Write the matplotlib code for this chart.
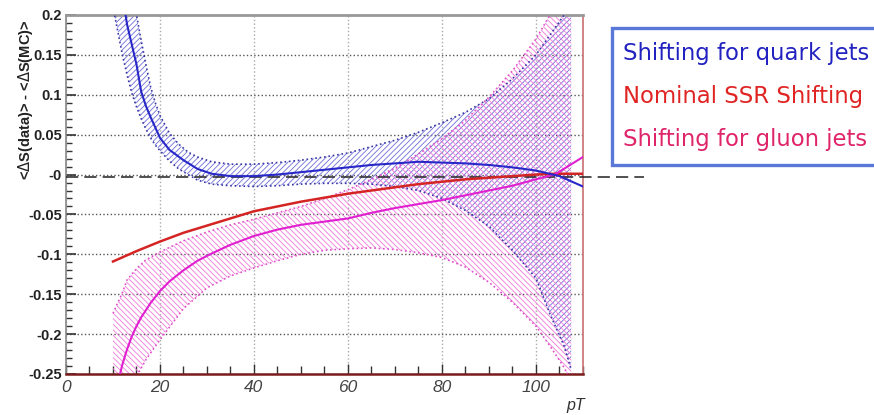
import numpy as np
import matplotlib
matplotlib.use("Agg")
import matplotlib.pyplot as plt
from matplotlib.ticker import MultipleLocator, FixedLocator, FixedFormatter
from matplotlib.patches import Rectangle

plt.rcParams['hatch.linewidth'] = 0.6
plt.rcParams['font.family'] = ['Liberation Sans', 'DejaVu Sans']

# quark jets: fitted shift and its error band
quark_pt = [12, 13, 14, 15, 16, 17, 18, 20, 22, 25, 28, 31, 35, 40, 45, 50,
            55, 60, 65, 70, 75, 80, 85, 90, 95, 100, 105, 110]
quark_shift = [0.225, 0.188, 0.163, 0.138, 0.104, 0.086, 0.072, 0.046, 0.031,
               0.018, 0.007, 0.001, -0.002, -0.002, 0.0, 0.003, 0.006, 0.009,
               0.012, 0.014, 0.016, 0.015, 0.014, 0.012, 0.009, 0.005, -0.002,
               -0.015]

band_pt = [10, 11, 12, 13, 14, 15, 16, 17, 18, 19, 20, 22, 24, 26, 28, 31, 35,
           40, 45, 50, 55, 60, 65, 70, 75, 80, 85, 90, 95, 100, 103, 106, 107.5]
quark_hi = [0.36, 0.33, 0.30, 0.27, 0.235, 0.2, 0.168, 0.138, 0.11, 0.09, 0.074,
            0.052, 0.038, 0.028, 0.022, 0.016, 0.013, 0.013, 0.015, 0.018,
            0.022, 0.027, 0.035, 0.043, 0.053, 0.065, 0.078, 0.095, 0.12, 0.15,
            0.175, 0.2, 0.22]
quark_lo = [0.21, 0.18, 0.15, 0.125, 0.102, 0.085, 0.07, 0.057, 0.046, 0.037,
            0.03, 0.017, 0.007, 0.0, -0.007, -0.012, -0.014, -0.015, -0.014,
            -0.012, -0.011, -0.011, -0.012, -0.015, -0.02, -0.03, -0.045,
            -0.065, -0.095, -0.13, -0.175, -0.215, -0.245]

# nominal SSR shift
ssr_pt = [10, 15, 20, 25, 30, 35, 40, 45, 50, 55, 60, 65, 70, 75, 80, 85, 90,
          95, 100, 104, 110]
ssr_shift = [-0.109, -0.096, -0.084, -0.073, -0.064, -0.055, -0.046, -0.040,
             -0.034, -0.029, -0.024, -0.020, -0.016, -0.012, -0.009, -0.006,
             -0.004, -0.002, 0.0, 0.001, 0.001]

# gluon jets: fitted shift and its error band
gluon_pt = [11.5, 12, 13, 14, 15, 16, 18, 20, 22, 25, 28, 31, 35, 40, 45, 50,
            55, 60, 65, 70, 75, 80, 85, 90, 95, 100, 104, 110]
gluon_shift = [-0.25, -0.238, -0.219, -0.203, -0.19, -0.179, -0.161, -0.146,
               -0.134, -0.12, -0.108, -0.099, -0.088, -0.077, -0.069, -0.063,
               -0.059, -0.055, -0.048, -0.042, -0.037, -0.032, -0.026, -0.02,
               -0.014, -0.006, 0.0, 0.022]

gband_pt = [10, 12, 13, 15, 17, 20, 25, 30, 35, 40, 45, 50, 55, 60, 65, 70, 75,
            80, 85, 90, 95, 100, 103, 106, 107.5]
gluon_hi = [-0.174, -0.148, -0.132, -0.118, -0.107, -0.097, -0.083, -0.072,
            -0.063, -0.056, -0.048, -0.04, -0.03, -0.019, -0.006, 0.008, 0.026,
            0.045, 0.068, 0.097, 0.13, 0.17, 0.2, 0.24, 0.26]
gluon_lo = [-0.32, -0.29, -0.276, -0.253, -0.232, -0.207, -0.168, -0.142,
            -0.127, -0.117, -0.108, -0.1, -0.095, -0.093, -0.092, -0.094,
            -0.098, -0.104, -0.116, -0.135, -0.16, -0.19, -0.215, -0.242, -0.26]

ytick_vals = [-0.25, -0.2, -0.15, -0.1, -0.05, 0.0, 0.05, 0.1, 0.15, 0.2]
ytick_text = ['-0.25', '-0.2', '-0.15', '-0.1', '-0.05', '-0', '0.05', '0.1',
              '0.15', '0.2']

legend_text = ['Shifting for quark jets', 'Nominal SSR Shifting',
               'Shifting for gluon jets']
legend_colours = ['#2222c0', '#e02424', '#e0246a']

fig = plt.figure(figsize=(8.74, 4.15), dpi=100)
ax = fig.add_axes([0.0755, 0.0988, 0.5915, 0.8651])

# hatched error bands
ax.fill_between(band_pt, quark_lo, quark_hi, facecolor='none',
                edgecolor='#6e6ed8', hatch='//////', linewidth=0, zorder=2)
ax.fill_between(gband_pt, gluon_lo, gluon_hi, facecolor='none',
                edgecolor='#f078dc', hatch='\\\\\\\\\\\\', linewidth=0, zorder=2)
for lo, hi, x, c in [(quark_lo, quark_hi, band_pt, '#3838a8'),
                     (gluon_lo, gluon_hi, gband_pt, '#e050c8')]:
    ax.plot(x, lo, ls=':', lw=1.2, color=c, zorder=3)
    ax.plot(x, hi, ls=':', lw=1.2, color=c, zorder=3)

# zero line runs out past the frame
ax.plot([0, 123], [-0.003, -0.003], ls=(0, (8, 4)), lw=1.1, color='#222222',
        clip_on=False, zorder=4)

ax.plot(ssr_pt, ssr_shift, color='#d42424', lw=1.8, zorder=5)
ax.plot(gluon_pt, gluon_shift, color='#e020d0', lw=1.5, zorder=5)
ax.plot(quark_pt, quark_shift, color='#2828c8', lw=1.5, zorder=6)

ax.set_xlim(0, 110)
ax.set_ylim(-0.25, 0.2)

ax.xaxis.set_major_locator(MultipleLocator(20))
ax.xaxis.set_minor_locator(MultipleLocator(5))
ax.yaxis.set_major_locator(FixedLocator(ytick_vals))
ax.yaxis.set_major_formatter(FixedFormatter(ytick_text))
ax.yaxis.set_minor_locator(MultipleLocator(0.01))

ax.tick_params(axis='both', which='both', direction='in', top=False,
               right=False, color='#333333')
ax.tick_params(axis='y', which='major', length=7, width=1.2, pad=3)
ax.tick_params(axis='y', which='minor', length=4, width=1.0)
ax.tick_params(axis='x', which='major', length=7, width=1.0, pad=4)
ax.tick_params(axis='x', which='minor', length=6, width=1.0)

for lab in ax.get_yticklabels():
    lab.set_fontweight('bold')
    lab.set_fontsize(10.5)
    lab.set_color('#222222')
for lab in ax.get_xticklabels():
    lab.set_fontstyle('italic')
    lab.set_fontsize(12.5)
    lab.set_color('#444444')

ax.yaxis.grid(True, ls=':', color='#555555', lw=1.0)
ax.xaxis.grid(True, ls=':', color='#aaaaaa', lw=1.0)
ax.set_axisbelow(True)

ax.spines['top'].set_color('#999999')
ax.spines['top'].set_linewidth(2.0)
ax.spines['left'].set_color('#888888')
ax.spines['left'].set_linewidth(1.2)
ax.spines['bottom'].set_color('#7a1c1c')
ax.spines['bottom'].set_linewidth(1.8)
ax.spines['right'].set_color('#c87070')
ax.spines['right'].set_linewidth(1.2)

fig.text(0.029, 0.759, r'<$\Delta$S(data)> - <$\Delta$S(MC)>', rotation=90,
         ha='center', va='center', fontsize=10.5, fontweight='bold',
         color='#222222')
fig.text(0.659, 0.024, 'pT', fontstyle='italic', fontsize=11.5,
         color='#333333', ha='center', va='center')

# legend box, cut off by the right edge
fig.patches.append(Rectangle((0.700, 0.602), 0.36, 0.33,
                             transform=fig.transFigure, facecolor='white',
                             edgecolor='#5a78d8', linewidth=2.4))
for i, (txt, c) in enumerate(zip(legend_text, legend_colours)):
    fig.text(0.713, 0.870 - i * 0.103, txt, color=c, fontsize=16.4,
             family='DejaVu Sans', ha='left', va='center')

fig.savefig('out.png', dpi=100)
